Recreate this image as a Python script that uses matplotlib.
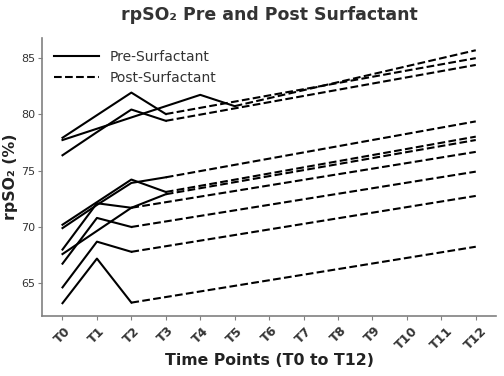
import matplotlib.pyplot as plt

time_labels = [f"T{i}" for i in range(13)]

# pre-surfactant readings, T0 onwards (one list per patient)
pre_values = [
    [77.9, 79.9, 81.9, 80.0],
    [77.7, 78.7, 79.7, 80.7, 81.7, 80.7],
    [76.35, 78.4, 80.4, 79.4],
    [70.2, 72.2, 74.2, 73.1],
    [69.9, 71.95, 73.9, 74.4],
    [68.0, 72.1, 71.7],
    [66.75, 70.8, 70.0],
    [64.65, 68.7, 67.8],
    [63.25, 67.2, 63.3],
    [67.6, 69.65, 71.7, 72.9],
]

# post-surfactant value reached at T12
post_end_values = [84.95, 85.65, 84.35, 78.0, 79.35, 76.65, 74.9, 72.75, 68.25, 77.7]

fig, ax = plt.subplots(figsize=(5.04, 3.76), dpi=100)
fig.subplots_adjust(left=0.083, right=0.985, bottom=0.16, top=0.90)

for index, (pre, post_end) in enumerate(zip(pre_values, post_end_values)):
    last = len(pre) - 1
    ax.plot(
        range(len(pre)),
        pre,
        color="black",
        linestyle="-",
        linewidth=1.5,
        label="Pre-Surfactant" if index == 0 else None,
    )
    ax.plot(
        [last, 12],
        [pre[-1], post_end],
        color="black",
        linestyle="--",
        linewidth=1.5,
        label="Post-Surfactant" if index == 0 else None,
    )

ax.set_xticks(range(13))
ax.set_xticklabels(time_labels, rotation=45, fontweight="bold", fontsize=9)
ax.set_yticks([65, 70, 75, 80, 85])

ax.set_title("rpSO\u2082 Pre and Post Surfactant", fontsize=12.5,
             fontweight="bold", color="#333333", pad=13)
ax.set_xlabel("Time Points (T0 to T12)", fontsize=11.3, fontweight="bold",
              color="#222222", labelpad=1)
ax.set_ylabel("rpSO\u2082 (%)", fontsize=11.3, fontweight="bold",
              color="#222222", labelpad=2)

for side in ["top", "right"]:
    ax.spines[side].set_visible(False)
for side in ["left", "bottom"]:
    ax.spines[side].set_color("#808080")
    ax.spines[side].set_linewidth(1.2)
ax.tick_params(axis="both", colors="#808080", labelcolor="#333333", length=3)
ax.tick_params(axis="y", labelsize=8, pad=2)
ax.tick_params(axis="x", pad=3)

ax.legend(loc="upper left", frameon=False, fontsize=10, handlelength=3.2,
          labelcolor="#333333")

plt.savefig("out.png", dpi=100)
plt.close()
